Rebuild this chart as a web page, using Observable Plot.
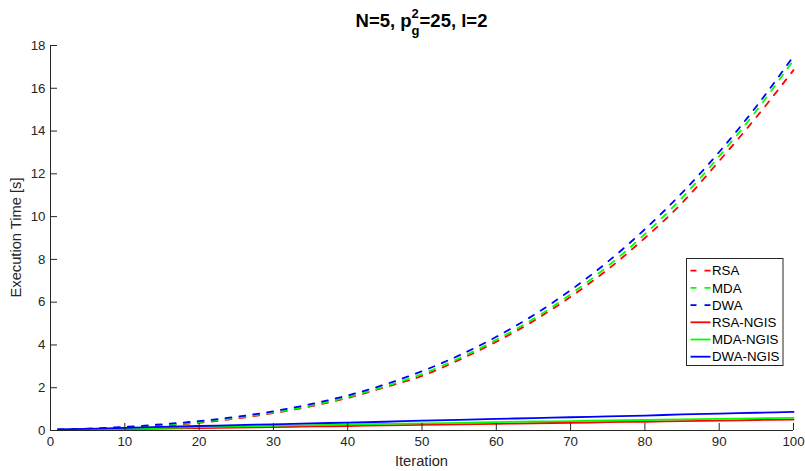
<!DOCTYPE html>
<html><head><meta charset="utf-8">
<script src="https://cdn.jsdelivr.net/npm/d3@7"></script>
<script src="https://cdn.jsdelivr.net/npm/@observablehq/plot@0.6"></script>
<style>html,body{margin:0;padding:0;background:#fff} svg{display:block}</style>
</head><body><div id="chart"></div>
<script>
// ---- data ----
const iterations = [1,5,10,15,20,25,30,35,40,45,50,55,60,65,70,75,80,85,90,95,100];
const rsa     = [0.03,0.03,0.10,0.22,0.36,0.56,0.81,1.13,1.52,2.02,2.55,3.30,4.15,5.12,6.25,7.53,9.00,10.64,12.60,14.65,16.85];
const mda     = [0.04,0.06,0.13,0.25,0.39,0.59,0.84,1.16,1.56,2.06,2.64,3.38,4.24,5.22,6.37,7.68,9.18,10.88,12.82,14.95,17.32];
const dwa     = [0.05,0.09,0.17,0.29,0.44,0.64,0.90,1.23,1.64,2.15,2.77,3.51,4.38,5.39,6.56,7.89,9.41,11.11,13.02,15.15,17.50];
const rsaNgis = [0.02,0.04,0.06,0.09,0.11,0.14,0.16,0.19,0.21,0.24,0.26,0.29,0.31,0.34,0.36,0.39,0.41,0.44,0.46,0.49,0.51];
const mdaNgis = [0.03,0.05,0.09,0.12,0.16,0.19,0.22,0.25,0.28,0.31,0.33,0.36,0.39,0.42,0.44,0.47,0.49,0.52,0.54,0.57,0.59];
const dwaNgis = [0.05,0.08,0.12,0.17,0.21,0.25,0.29,0.33,0.37,0.41,0.46,0.50,0.54,0.58,0.62,0.66,0.70,0.75,0.79,0.83,0.87];
const seriesNames = ["RSA","MDA","DWA","RSA-NGIS","MDA-NGIS","DWA-NGIS"];
const xTicks = [0,10,20,30,40,50,60,70,80,90,100];
const yTicks = [0,2,4,6,8,10,12,14,16,18];
const xLabel = "Iteration";
const yLabel = "Execution Time [s]";

// ---- styling ----
const seriesValues = [rsa, mda, dwa, rsaNgis, mdaNgis, dwaNgis];
const style = {
  colors: ["#ff0000","#00ff00","#0000ff","#ff0000","#00ff00","#0000ff"],
  dashed: [true,true,true,false,false,false],
  dash: "6,8",
  width: 1.8,
  axis: "#262626",
  font: "'Liberation Sans', Arial, Helvetica, sans-serif"
};

const table = seriesNames.map((name, i) =>
  iterations.map((it, j) => ({iteration: it, time: seriesValues[i][j], series: name})));

const W = 805, H = 471, mL = 50, mR = 12, mT = 45, mB = 41;
const innerW = W - mL - mR, innerH = H - mT - mB;

const lines = table.map((rows, i) => Plot.line(rows, {
  x: "iteration", y: "time",
  stroke: style.colors[i], strokeWidth: style.width,
  strokeDasharray: style.dashed[i] ? style.dash : null,
  curve: "monotone-x"
}));

const plot = Plot.plot({
  width: W, height: H,
  marginLeft: mL, marginRight: mR, marginTop: mT, marginBottom: mB,
  style: {fontFamily: style.font, fontSize: "13.3px", color: style.axis, background: "#fff", overflow: "visible"},
  x: {domain: [0, 100]},
  y: {domain: [0, 18]},
  marks: [
    ...lines,
    Plot.tickX(xTicks, {x: d => d, stroke: style.axis, strokeWidth: 1, insetTop: innerH - 7}),
    Plot.tickY(yTicks, {y: d => d, stroke: style.axis, strokeWidth: 1, insetRight: innerW - 7}),
    Plot.ruleX([0], {stroke: style.axis, strokeWidth: 1}),
    Plot.ruleY([0], {stroke: style.axis, strokeWidth: 1}),
    Plot.axisX({ticks: xTicks, tickSize: 0, tickPadding: 6, label: null, fill: style.axis}),
    Plot.axisY({ticks: yTicks, tickSize: 0, tickPadding: 5, label: null, fill: style.axis})
  ]
});

const svg = d3.select(plot);

// title with stacked super/subscript
const title = svg.append("text")
  .attr("x", mL + innerW / 2).attr("y", 27)
  .attr("text-anchor", "middle")
  .attr("font-family", style.font).attr("font-weight", "bold").attr("font-size", 18.5)
  .attr("fill", "#000");
title.append("tspan").text("N=5, p");
title.append("tspan").attr("dy", -9.5).attr("font-size", 13).text("2");
title.append("tspan").attr("dx", -7.2).attr("dy", 17.5).attr("font-size", 13).text("g");
title.append("tspan").attr("dy", -8).text("=25, l=2");

// axis labels
svg.append("text")
  .attr("x", mL + innerW / 2).attr("y", 466)
  .attr("text-anchor", "middle")
  .attr("font-family", style.font).attr("font-size", 14.7).attr("fill", style.axis)
  .text(xLabel);
svg.append("text")
  .attr("transform", `translate(21,${mT + innerH / 2}) rotate(-90)`)
  .attr("text-anchor", "middle")
  .attr("font-family", style.font).attr("font-size", 14.7).attr("fill", style.axis)
  .text(yLabel);

// legend
const lg = svg.append("g").attr("transform", "translate(686.5,258.5)");
lg.append("rect").attr("width", 96.5).attr("height", 107)
  .attr("fill", "#fff").attr("stroke", style.axis).attr("stroke-width", 1);
seriesNames.forEach((name, i) => {
  const y = 12.2 + i * 17.2;
  lg.append("line").attr("x1", 4).attr("x2", 24).attr("y1", y).attr("y2", y)
    .attr("stroke", style.colors[i]).attr("stroke-width", style.width)
    .attr("stroke-dasharray", style.dashed[i] ? style.dash : null);
  lg.append("text").attr("x", 25.5).attr("y", y).attr("dy", "0.35em")
    .attr("text-anchor", "start")
    .attr("font-family", style.font).attr("font-size", 13.3).attr("fill", "#000")
    .text(name);
});

document.getElementById("chart").appendChild(plot);
</script>
</body></html>
